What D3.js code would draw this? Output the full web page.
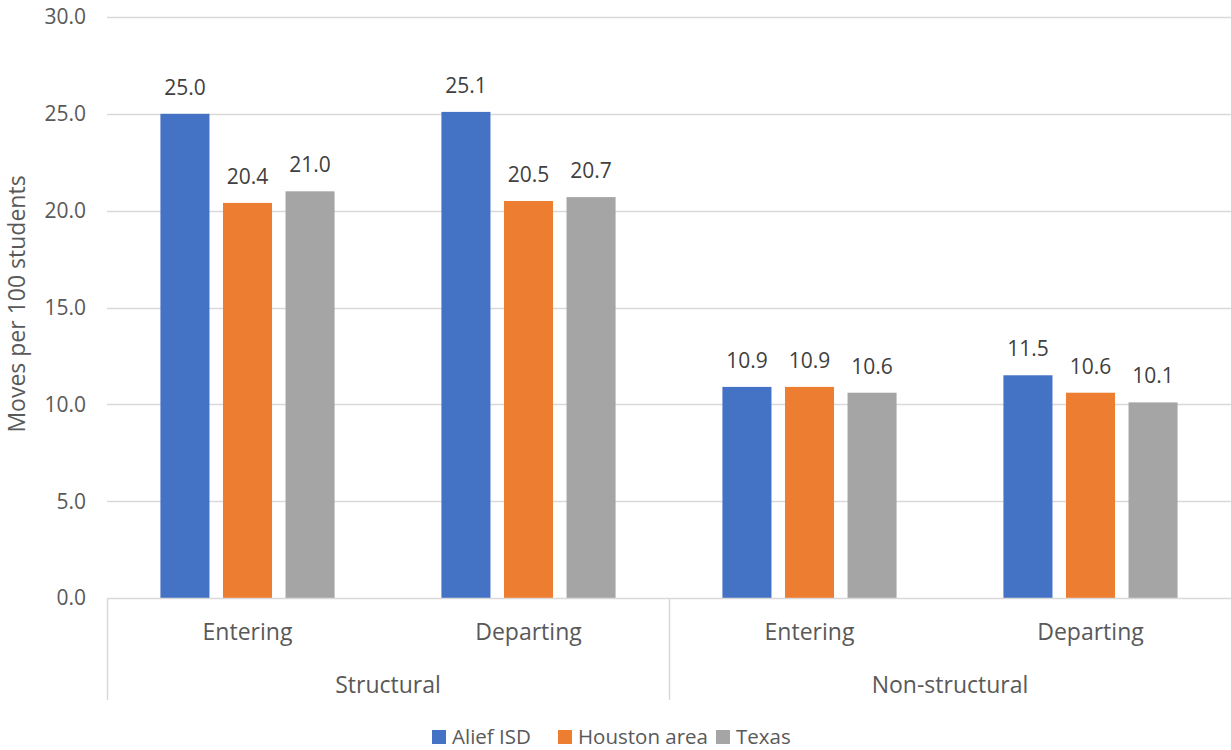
<!DOCTYPE html>
<html><head><meta charset="utf-8">
<script src="https://cdn.jsdelivr.net/npm/d3@7"></script>
<style>body{margin:0;background:#fff;} svg{display:block;font-family:"Open Sans","Noto Sans",sans-serif;}</style>
</head><body>
<svg id="c" width="1231" height="750"></svg>
<script>
const groups = ["Structural", "Non-structural"];
const subcats = ["Entering", "Departing"];
const categories = ["Structural|Entering", "Structural|Departing", "Non-structural|Entering", "Non-structural|Departing"];
const series = ["Alief ISD", "Houston area", "Texas"];
const colors = ["#4472C4", "#ED7D31", "#A5A5A5"];
const aliefISD = [25.0, 25.1, 10.9, 11.5];
const houstonArea = [20.4, 20.5, 10.9, 10.6];
const texas = [21.0, 20.7, 10.6, 10.1];
const yTicks = [0, 5, 10, 15, 20, 25, 30];
const values = [aliefISD, houstonArea, texas];

const svg = d3.select("#c");
const L = 107, R = 1231, T = 17, B = 598;
const y = d3.scaleLinear().domain([0, 30]).range([B, T]);
const x = d3.scaleBand().domain(categories).range([L, R]).padding(0);
const xi = d3.scaleBand().domain(series).range([0, x.bandwidth()]).paddingInner(0.216).paddingOuter(0.854);
const txt = "#595959";

// gridlines
svg.append("g").selectAll("line").data(yTicks.filter(d => d > 0)).join("line")
  .attr("x1", L).attr("x2", R).attr("y1", d => Math.round(y(d)) + 0.5).attr("y2", d => Math.round(y(d)) + 0.5)
  .attr("stroke", "#d9d9d9").attr("stroke-width", 1.3);

// y tick labels
svg.append("g").selectAll("text").data(yTicks).join("text")
  .attr("x", 86).attr("y", d => y(d)).attr("dy", "0.35em").attr("text-anchor", "end")
  .attr("font-size", 21).attr("fill", txt).text(d => d.toFixed(1));

// bars
const gs = svg.append("g").selectAll("g").data(series).join("g");
gs.each(function(s, si) {
  const g = d3.select(this);
  g.selectAll("rect").data(categories).join("rect")
    .attr("x", (c) => x(c) + xi(s)).attr("width", xi.bandwidth())
    .attr("y", (c, i) => y(values[si][i])).attr("height", (c, i) => B - y(values[si][i]))
    .attr("fill", colors[si]);
  g.selectAll("text").data(categories).join("text")
    .attr("x", c => x(c) + xi(s) + xi.bandwidth() / 2)
    .attr("y", (c, i) => y(values[si][i]) - 19)
    .attr("text-anchor", "middle").attr("font-size", 21).attr("fill", "#404040")
    .text((c, i) => values[si][i].toFixed(1));
});

// baseline axis
svg.append("line").attr("x1", L).attr("x2", R).attr("y1", B + 0.5).attr("y2", B + 0.5).attr("stroke", "#d9d9d9").attr("stroke-width", 1.5);
// separators
const sepX = [L, x(categories[2])];
svg.append("g").selectAll("line").data(sepX).join("line")
  .attr("x1", d => Math.round(d) + 0.5).attr("x2", d => Math.round(d) + 0.5).attr("y1", B).attr("y2", 700)
  .attr("stroke", "#d9d9d9").attr("stroke-width", 1.5);

// subcategory labels
svg.append("g").selectAll("text").data(categories).join("text")
  .attr("x", c => x(c) + x.bandwidth() / 2).attr("y", 632).attr("dy", "0.35em").attr("text-anchor", "middle")
  .attr("font-size", 23).attr("fill", txt).text(c => c.split("|")[1]);
// group labels
svg.append("g").selectAll("text").data(groups).join("text")
  .attr("x", (g, i) => x(categories[i * 2]) + x.bandwidth()).attr("y", 685).attr("dy", "0.35em").attr("text-anchor", "middle")
  .attr("font-size", 23).attr("fill", txt).text(g => g);

// y axis title
svg.append("text").attr("transform", `translate(25,304) rotate(-90)`)
  .attr("text-anchor", "middle").attr("font-size", 23).attr("fill", txt).text("Moves per 100 students");

// legend
const legX = [432, 558, 716];
const lg = svg.append("g").selectAll("g").data(series).join("g").attr("transform", (d, i) => `translate(${legX[i]},730)`);
lg.append("rect").attr("width", 14).attr("height", 14).attr("fill", (d, i) => colors[i]);
lg.append("text").attr("x", 20).attr("y", 7).attr("dy", "0.35em").attr("font-size", 20.5).attr("fill", txt).text(d => d);
</script>
</body></html>
